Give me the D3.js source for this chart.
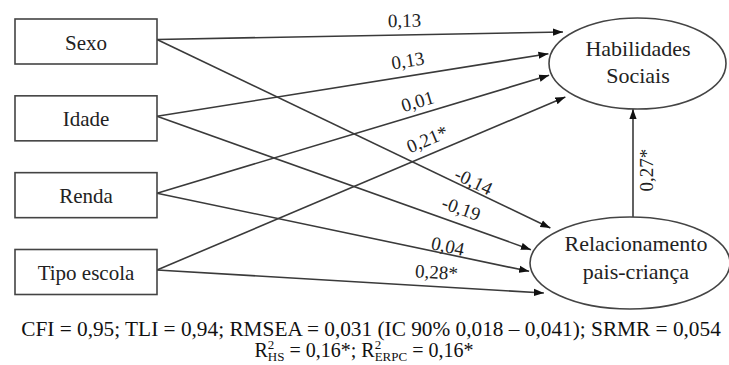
<!DOCTYPE html>
<html>
<head>
<meta charset="utf-8">
<script src="https://cdn.jsdelivr.net/npm/d3@7/dist/d3.min.js"></script>
</head>
<body style="margin:0">
<script>
// model data
const predictors = ["Sexo", "Idade", "Renda", "Tipo escola"];
const outcomes = ["Habilidades Sociais", "Relacionamento pais-criança"];
const outcomeLines = [["Habilidades", "Sociais"], ["Relacionamento", "pais-criança"]];
const coefHS = ["0,13", "0,13", "0,01", "0,21*"];
const coefRPC = ["-0,14", "-0,19", "0,04", "0,28*"];
const coefRPCtoHS = "0,27*";
const fitText = "CFI = 0,95; TLI = 0,94; RMSEA = 0,031 (IC 90% 0,018 – 0,041); SRMR = 0,054";
const r2Labels = ["HS", "ERPC"];
const r2Values = ["0,16*", "0,16*"];

// layout (where along each path the label sits, and how far above it)
const labelT = [[0.61, 0.647, 0.674, 0.676], [0.795, 0.80, 0.777, 0.72]];
const labelOff = [[8, 9, 6.5, 8.5], [2.5, 9, 1.5, 8]];

const width = 729, height = 365;
const ink = "#222", lineCol = "#3a3a3a";
const serif = '"Liberation Serif"';

const svg = d3.select("body").append("svg")
    .attr("width", width)
    .attr("height", height)
    .attr("font-family", "Liberation Serif");

// all text goes straight on the svg, after the shapes
function label(sel) {
    return sel.style("font-family", serif, "important").attr("fill", ink);
}

svg.append("defs").append("marker")
    .attr("id", "arrow")
    .attr("markerUnits", "userSpaceOnUse")
    .attr("viewBox", "0 -4 10 8")
    .attr("refX", 10).attr("refY", 0)
    .attr("markerWidth", 10).attr("markerHeight", 8)
    .attr("orient", "auto")
    .append("path")
    .attr("d", "M0,-3.6L10,0L0,3.6Z")
    .attr("fill", "#111");

// predictor boxes
const yBox = d3.scalePoint().domain(predictors).range([41.5, 272]);
const box = { x: 15, w: 142, h: 45 };

// outcome ellipses
const ell = [
    { cx: 637.5, cy: 63.5, rx: 88.5, ry: 45.5, tx: 638, ty: -8 },
    { cx: 630, cy: 263, rx: 100, ry: 46, tx: 636, ty: -12 }
];
// arrow tips spread along the left side of each ellipse
const yTip = [
    d3.scalePoint().domain(predictors).range([32, 97]),
    d3.scalePoint().domain(predictors).range([228, 293])
];

function tipX(e, y) {
    const v = (y - e.cy) / (e.ry + 10);
    return e.cx - (e.rx + 2) * Math.sqrt(Math.max(0, 1 - v * v));
}

const edges = [];
[coefHS, coefRPC].forEach((coefs, oi) => {
    predictors.forEach((p, pi) => {
        const y2 = yTip[oi](p);
        edges.push({
            x1: box.x + box.w, y1: yBox(p) - 2,
            x2: tipX(ell[oi], y2), y2: y2,
            label: coefs[pi], t: labelT[oi][pi], off: labelOff[oi][pi]
        });
    });
});

svg.selectAll("line.path")
    .data(edges)
    .join("line")
    .attr("class", "path")
    .attr("x1", d => d.x1).attr("y1", d => d.y1)
    .attr("x2", d => d.x2).attr("y2", d => d.y2)
    .attr("stroke", lineCol)
    .attr("stroke-width", 1.6)
    .attr("marker-end", "url(#arrow)");

// RPC -> HS
const vx = 633;
svg.append("line")
    .attr("x1", vx).attr("y1", ell[1].cy - ell[1].ry)
    .attr("x2", vx).attr("y2", ell[0].cy + ell[0].ry)
    .attr("stroke", lineCol)
    .attr("stroke-width", 1.6)
    .attr("marker-end", "url(#arrow)");

svg.selectAll("rect.box")
    .data(predictors)
    .join("rect")
    .attr("class", "box")
    .attr("x", box.x)
    .attr("y", d => yBox(d) - box.h / 2)
    .attr("width", box.w)
    .attr("height", box.h)
    .attr("fill", "#fff")
    .attr("stroke", "#444")
    .attr("stroke-width", 1.6);

svg.selectAll("ellipse.latent")
    .data(outcomes)
    .join("ellipse")
    .attr("class", "latent")
    .attr("cx", (d, i) => ell[i].cx)
    .attr("cy", (d, i) => ell[i].cy)
    .attr("rx", (d, i) => ell[i].rx)
    .attr("ry", (d, i) => ell[i].ry)
    .attr("fill", "#fff")
    .attr("stroke", "#444")
    .attr("stroke-width", 1.6);

// texts
svg.selectAll("text.coef")
    .data(edges)
    .join("text")
    .attr("class", "coef")
    .attr("transform", d => {
        const a = Math.atan2(d.y2 - d.y1, d.x2 - d.x1);
        const px = d.x1 + (d.x2 - d.x1) * d.t + Math.sin(a) * d.off;
        const py = d.y1 + (d.y2 - d.y1) * d.t - Math.cos(a) * d.off;
        return `translate(${px},${py}) rotate(${a * 180 / Math.PI})`;
    })
    .attr("text-anchor", "middle")
    .attr("font-size", 19)
    .call(label)
    .text(d => d.label);

svg.append("text")
    .attr("transform", `translate(${vx + 20},170) rotate(-90)`)
    .attr("text-anchor", "middle")
    .attr("font-size", 19)
    .call(label)
    .text(coefRPCtoHS);

svg.selectAll("text.pred")
    .data(predictors)
    .join("text")
    .attr("class", "pred")
    .attr("x", box.x + box.w / 2)
    .attr("y", d => yBox(d) + 8)
    .attr("text-anchor", "middle")
    .attr("font-size", 21)
    .call(label)
    .text(d => d);

outcomeLines.forEach((lines, i) => {
    const t = svg.append("text")
        .attr("text-anchor", "middle")
        .attr("font-size", 22)
        .call(label);
    lines.forEach((s, k) => {
        t.append("tspan")
            .attr("x", ell[i].tx)
            .attr("y", ell[i].cy + ell[i].ty + k * 27.5)
            .text(s);
    });
});

// fit indices
svg.append("text")
    .attr("x", 371).attr("y", 336)
    .attr("text-anchor", "middle")
    .attr("font-size", 21.3)
    .call(label)
    .attr("fill", "#111")
    .text(fitText);

const r2 = svg.append("text")
    .attr("x", 364).attr("y", 357)
    .attr("text-anchor", "middle")
    .attr("font-size", 20)
    .call(label)
    .attr("fill", "#111");

r2Labels.forEach((lab, i) => {
    r2.append("tspan").text((i ? "; " : "") + "R");
    r2.append("tspan").attr("font-size", 13).attr("dy", -8).text("2");
    r2.append("tspan").attr("font-size", 13).attr("dx", -6.5).attr("dy", 12).text(lab);
    r2.append("tspan").attr("dy", -4).text(" = " + r2Values[i]);
});
</script>
</body>
</html>
